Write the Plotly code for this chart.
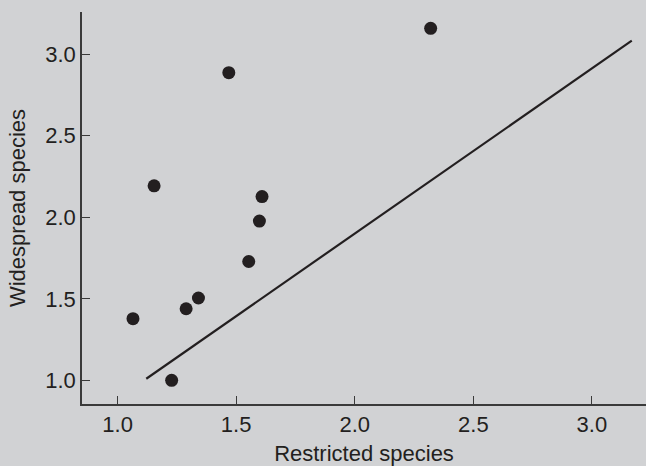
import plotly.graph_objects as go

# Data
restricted = [1.065, 1.154, 1.228, 1.289, 1.341, 1.469, 1.553, 1.598, 1.609, 2.320]
widespread = [1.378, 2.193, 1.000, 1.439, 1.505, 2.887, 1.729, 1.977, 2.127, 3.159]
line_x = [1.121, 3.168]
line_y = [1.010, 3.083]
x_ticks = [1.0, 1.5, 2.0, 2.5, 3.0]
y_ticks = [1.0, 1.5, 2.0, 2.5, 3.0]

BG = "#d1d2d4"
INK = "#231f20"
FONT = "Liberation Sans, Arial, sans-serif"

fig = go.Figure()
fig.add_trace(go.Scatter(x=line_x, y=line_y, mode="lines",
                         line=dict(color=INK, width=2.2), hoverinfo="skip"))
fig.add_trace(go.Scatter(x=restricted, y=widespread, mode="markers",
                         marker=dict(color=INK, size=13, line=dict(width=0))))

axis_common = dict(showgrid=False, zeroline=False, showline=True,
                   linecolor="#3a3a3a", linewidth=1.5,
                   ticks="inside", ticklen=8, tickwidth=1.3, tickcolor="#3a3a3a",
                   tickfont=dict(family=FONT, size=22, color=INK),
                   tickformat=".1f")

fig.update_layout(
    width=646, height=466,
    margin=dict(l=82, r=0, t=12, b=62),
    paper_bgcolor=BG, plot_bgcolor=BG,
    showlegend=False,
    font=dict(family=FONT, color=INK),
    xaxis=dict(range=[0.850, 3.228], tickvals=x_ticks,
               title=dict(text="Restricted species", font=dict(family=FONT, size=22, color=INK), standoff=9),
               **axis_common),
    yaxis=dict(range=[0.855, 3.259], tickvals=y_ticks,
               title=dict(text="Widespread species", font=dict(family=FONT, size=22, color=INK), standoff=14),
               **axis_common),
)

fig.write_html("out.html")
